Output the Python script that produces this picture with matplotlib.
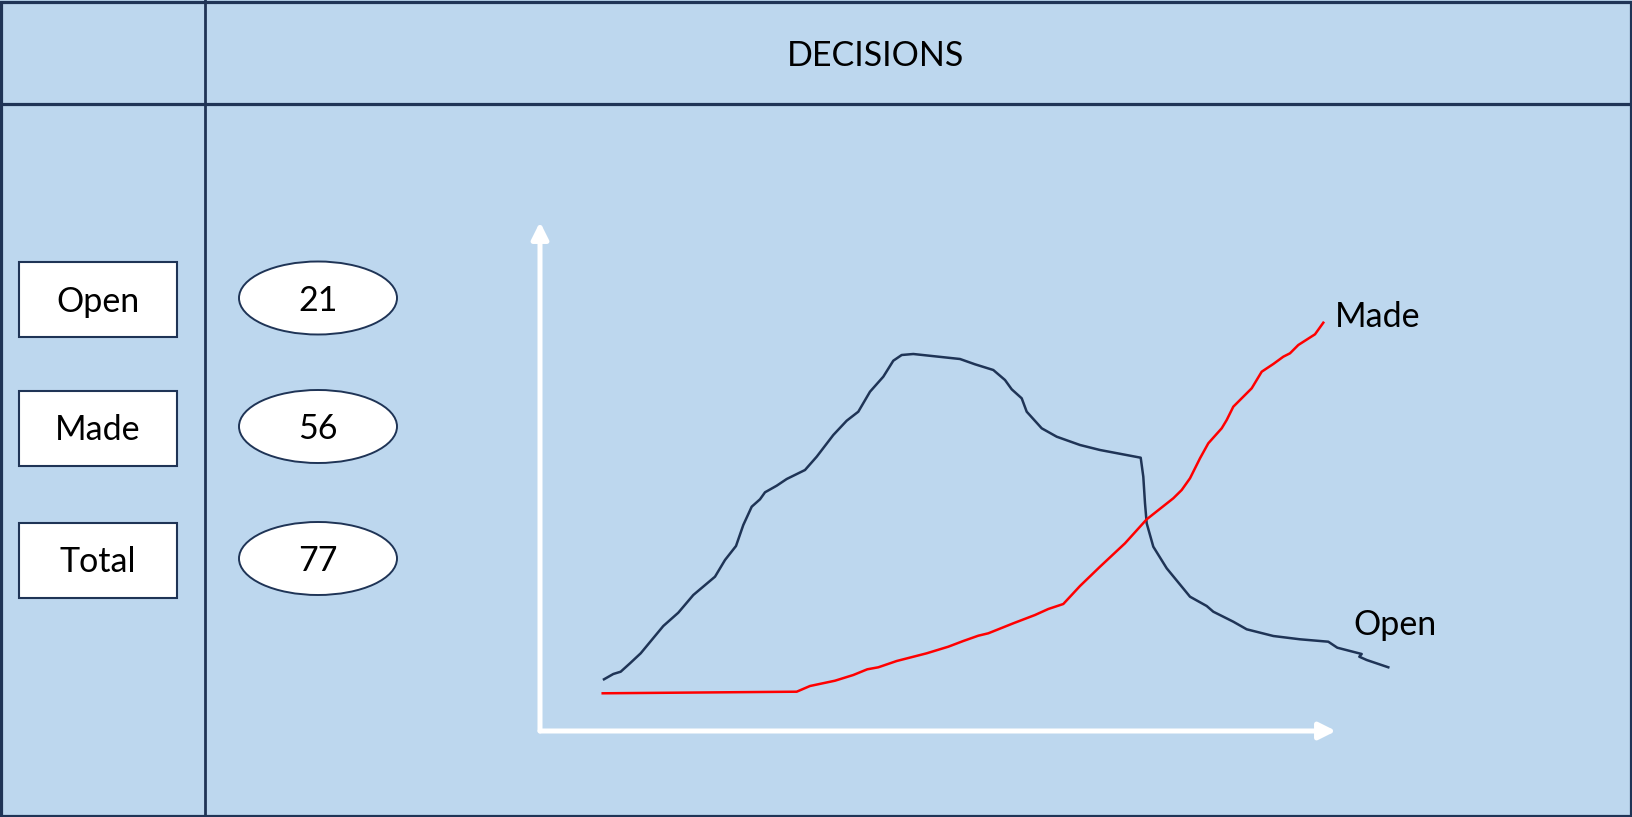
import matplotlib
matplotlib.use("Agg")
import matplotlib.pyplot as plt
from matplotlib.patches import Rectangle, Ellipse

# summary panel
labels = ["Open", "Made", "Total"]
counts = [21, 56, 77]
title = "DECISIONS"

# curves (time on x, decisions on y)
open_x = [64, 73.3, 80.7, 90, 100.7, 111.7, 123.3, 138.3, 153.3, 175, 185, 196, 203.3,
          211.7, 220, 225, 236.7, 246.7, 265, 276.7, 293.3, 306.7, 318.3, 330, 343.3,
          353.3, 361.7, 373.3, 420, 435, 453.3, 465, 471.7, 481.7, 486.7, 501.7, 516.7,
          540, 560, 600.7, 603.3, 605, 606.7, 613.3, 626.7, 650, 666.7, 673.3, 693.3,
          706.7, 733.3, 760, 788.3, 797.3, 821.7, 819.3, 826.7, 848.3]
open_y = [51.7, 57, 59.3, 67.7, 77.7, 91, 105, 118.3, 136, 154.3, 171, 185, 206,
          224.3, 231.7, 238.7, 245.3, 252, 261, 274.3, 296, 310.3, 319.3, 339.3, 354.3,
          370.3, 376, 377, 372, 366.7, 361, 351, 341.7, 332.7, 319.3, 302.7, 294.3,
          286, 281, 273.3, 254.3, 227.7, 207.7, 184.3, 162.7, 134.3, 125, 119.3, 109.3,
          101.7, 95, 91.7, 89.3, 83.3, 77, 74.3, 71, 63.7]
made_x = [62.7, 256.7, 270, 295, 313.3, 327.3, 338.3, 356.7, 386.7, 408.3, 423.3, 438.3,
          448.3, 473.3, 495, 508.3, 523.3, 540, 560, 585, 606.7, 633.3, 641.7, 650, 660,
          668.3, 681.7, 686.7, 693.3, 711.7, 721.7, 733.3, 743.3, 750, 758.3, 775, 783.3]
made_y = [37.7, 39.3, 45, 50.3, 56, 61.7, 63.7, 70, 77.7, 84.3, 90, 95.3,
          97.7, 107.7, 116, 122, 127, 145, 164.3, 187.7, 211.7, 232.7, 241, 252.7, 272.7,
          287.7, 302.7, 311, 324.3, 342.7, 359.3, 367, 374.3, 377.7, 386, 396.7, 408.3]

W, H = 1633, 817
BG = "#BDD7EE"
NAVY = "#1F3456"
FONT = "Lato"

fig = plt.figure(figsize=(W / 100, H / 100), dpi=100, facecolor=BG)
bg = fig.add_axes([0, 0, 1, 1])
bg.set_xlim(0, W)
bg.set_ylim(H, 0)
bg.axis("off")
bg.set_facecolor(BG)

# frame and dividers
bg.add_patch(Rectangle((1.5, 1.5), W - 3, H - 3, fill=False, ec=NAVY, lw=2.3))
bg.plot([205, 205], [0, H], color=NAVY, lw=2.0)
bg.plot([0, W], [104, 104], color=NAVY, lw=2.3)
bg.text(876, 56, title, ha="center", va="center", fontsize=24.5, family=FONT, color="black")

rows = [299.5, 428, 560]
for lab, val, yc in zip(labels, counts, rows):
    bg.add_patch(Rectangle((19, yc - 37.5), 158, 75, fc="white", ec=NAVY, lw=1.5))
    bg.add_patch(Ellipse((318, yc - 1.5), 158, 73, fc="white", ec=NAVY, lw=1.4))
    bg.text(98, yc + 12, lab, ha="center", va="baseline", fontsize=24.5, family=FONT)
    bg.text(318, yc + 11, str(val), ha="center", va="baseline", fontsize=24.5, family=FONT)

# chart area
ax = fig.add_axes([540 / W, (H - 731) / H, 796 / W, 509 / H])
ax.set_xlim(0, 796)
ax.set_ylim(0, 509)
ax.axis("off")

arrow = dict(arrowstyle="-|>,head_length=0.5,head_width=0.25", color="white", lw=3.6,
             mutation_scale=20, shrinkA=0, shrinkB=0)
ax.annotate("", xy=(0, 1), xytext=(0, 0), xycoords="axes fraction", arrowprops=arrow)
ax.annotate("", xy=(1, 0), xytext=(0, 0), xycoords="axes fraction", arrowprops=arrow)

ax.plot(open_x, open_y, color=NAVY, lw=1.8, clip_on=False, solid_joinstyle="round")
ax.plot(made_x, made_y, color="#FF0000", lw=1.8, clip_on=False, solid_joinstyle="round")

bg.text(1335, 327, "Made", ha="left", va="baseline", fontsize=24.5, family=FONT)
bg.text(1353, 635, "Open", ha="left", va="baseline", fontsize=24.5, family=FONT)

fig.savefig("out.png", dpi=100, facecolor=BG)
